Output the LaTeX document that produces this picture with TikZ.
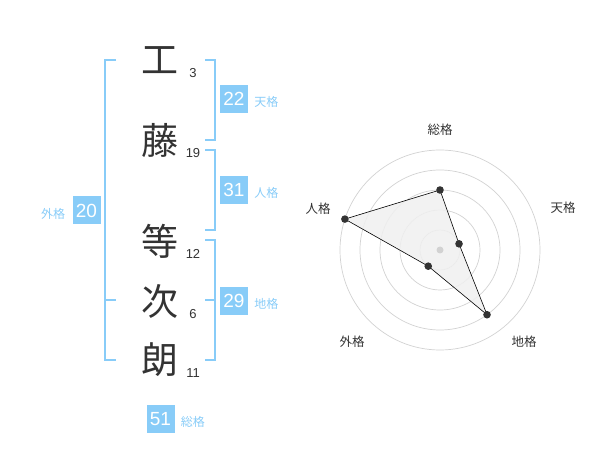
\documentclass[tikz,border=0pt]{standalone}
\usepackage{fontspec}
\setmainfont{Liberation Sans}
\newfontfamily\cjk{Noto Sans CJK JP}
\usetikzlibrary{positioning}
\definecolor{kakublue}{HTML}{88CCF8}
\definecolor{inkgray}{HTML}{333333}
\definecolor{ringgray}{HTML}{D2D2D2}
\definecolor{areagray}{HTML}{F0F0F0}
\tikzset{
  kanji/.style={text=inkgray,inner sep=0pt,font=\cjk\fontsize{37}{37}\selectfont},
  kakusu/.style={text=inkgray,inner sep=0pt,font=\fontsize{13}{13}\selectfont},
  kakubox/.style={fill=kakublue,text=white,minimum size=28pt,inner sep=0pt,font=\fontsize{19}{19}\selectfont},
  kakuname/.style={text=kakublue,inner sep=0pt,font=\cjk\fontsize{12}{12}\selectfont},
  bracket/.style={draw=kakublue,line width=2pt},
  radarname/.style={text=inkgray,inner sep=0pt,font=\cjk\fontsize{12.5}{12.5}\selectfont}
}
\begin{document}
\begin{tikzpicture}[x=1pt,y=-1pt]
\useasboundingbox (0,0) rectangle (600,470);
\foreach \ch/\y/\n [count=\i] in {工/60/3,藤/140/19,等/241/12,次/301/6,朗/360/11}
  \node[kanji] (c\i) at (160,\y) {\ch} node[kakusu] (n\i) at (193,\y+13) {\n};
\draw[bracket] (116,60)--(105,60)--(105,360)--(116,360) (105,300)--(116,300);
\draw[bracket] (205,60)--(215,60)--(215,140)--(205,140);
\draw[bracket] (205,150)--(215,150)--(215,230)--(205,230);
\draw[bracket] (205,240)--(215,240)--(215,360)--(205,360) (205,300)--(215,300);
\node[kakubox] (ten) at (234,99) {22};
\node[kakuname,right=6pt of ten,yshift=-3pt] (ten-l) {天格};
\node[kakubox] (jin) at (234,190) {31};
\node[kakuname,right=6pt of jin,yshift=-3pt] (jin-l) {人格};
\node[kakubox] (chi) at (234,301) {29};
\node[kakuname,right=6pt of chi,yshift=-3pt] (chi-l) {地格};
\node[kakubox] (gai) at (86.5,210.5) {20};
\node[kakuname,left=7pt of gai,yshift=-3pt] (gai-l) {外格};
\node[kakubox] (so) at (160.5,419) {51};
\node[kakuname,right=6pt of so,yshift=-3pt] (so-l) {総格};
\begin{scope}[shift={(440,250)}]
  \foreach \r in {20,40,...,100}
    \draw[ringgray,line width=0.7pt] (0,0) circle (\r pt);
  \foreach \a/\r/\nm in {90/60/so,18/20/ten,-54/80/chi,-126/20/gai,162/100/jin}
    \coordinate (p-\nm) at (\a:\r pt);
  \draw[draw=black,fill=areagray,fill opacity=0.85,line width=0.6pt]
    (p-so)--(p-ten)--(p-chi)--(p-gai)--(p-jin)--cycle;
  \fill[ringgray] (0,0) circle (3.5pt);
  \foreach \nm in {so,ten,chi,gai,jin}
    \fill[inkgray] (p-\nm) circle (3.8pt);
\end{scope}
\node[radarname] (r-so) at (440,130) {総格};
\node[radarname] (r-ten) at (563,208) {天格};
\node[radarname] (r-chi) at (524,342) {地格};
\node[radarname] (r-gai) at (352,342) {外格};
\node[radarname] (r-jin) at (318,209) {人格};
\end{tikzpicture}
\end{document}
